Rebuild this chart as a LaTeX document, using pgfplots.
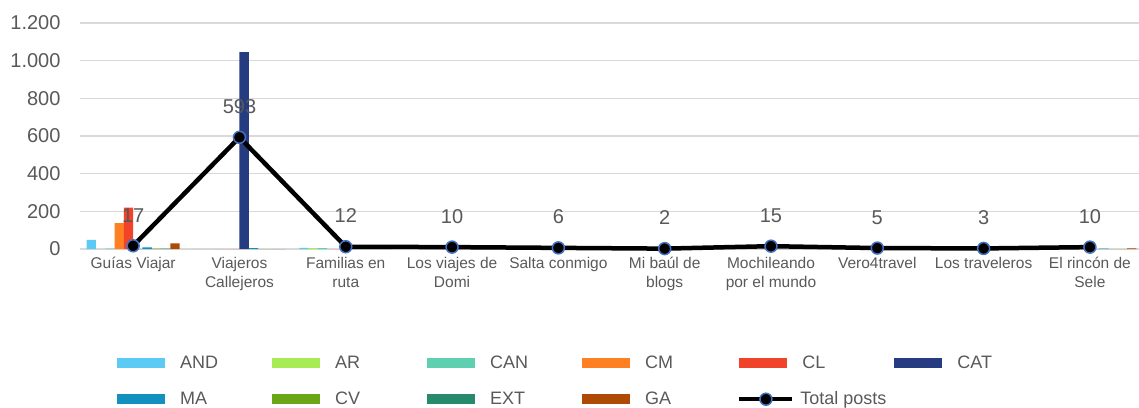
\documentclass[border=0pt]{standalone}
\usepackage{pgfplots}
\pgfplotsset{compat=1.18}
\usepackage{pgfplotstable}
\usepackage{fontspec}
\setmainfont{Liberation Sans}

\definecolor{cAND}{HTML}{5BCBF5}
\definecolor{cAR}{HTML}{A9EB52}
\definecolor{cCAN}{HTML}{5ECFB1}
\definecolor{cCM}{HTML}{FF8022}
\definecolor{cCL}{HTML}{F0432A}
\definecolor{cCAT}{HTML}{263C80}
\definecolor{cMA}{HTML}{1290C0}
\definecolor{cCV}{HTML}{6AA617}
\definecolor{cEXT}{HTML}{278A6D}
\definecolor{cGA}{HTML}{AE4A04}
\definecolor{markblue}{HTML}{4472C4}
\definecolor{gridgray}{HTML}{D9D9D9}
\definecolor{txtgray}{HTML}{595959}

\pgfplotstableread{
x AND AR CAN CM CL CAT MA CV EXT GA total
0 48 0 2 138 220 0 8 2 2 30 17
1 0 0 0 0 0 1045 5 0 0 0 593
2 6 5 5 0 0 0 0 0 0 0 12
3 0 0 0 0 0 0 0 5 5 0 10
4 0 0 0 0 0 0 0 0 0 0 6
5 0 0 0 0 0 0 0 0 0 0 2
6 0 0 0 0 0 0 0 0 0 0 15
7 0 0 0 0 0 0 0 0 0 0 5
8 0 0 0 0 0 0 0 0 0 0 3
9 0 0 0 0 0 0 2 0 0 3 10
}\data

\pgfplotsset{
  barstyle/.style={ybar, bar width=9.3bp, draw=none, fill=#1,
    legend image code/.code={\fill[#1] (0bp,-5bp) rectangle (48bp,5bp); \path (63bp,0bp);}},
  lineleg/.style={legend image code/.code={\draw[##1, mark repeat=2, mark phase=2] plot coordinates {(0bp,0bp) (26.5bp,0bp) (53bp,0bp)}; \path (56bp,0bp);}},
}

\newcommand{\legtxt}[1]{\makebox[92bp][l]{#1\vphantom{Ap}}}

\begin{document}
\begin{tikzpicture}
\path[use as bounding box] (-80bp,-159bp) rectangle (1059bp,249bp);
\begin{axis}[
  at={(0,0)}, anchor=south west,
  scale only axis, width=1063bp, height=226bp,
  xmin=-0.5, xmax=9.5, ymin=0, ymax=1200,
  clip=false,
  xtick={0,...,9},
  xticklabels={Guías Viajar, Viajeros\\Callejeros, Familias en\\ruta, Los viajes de\\Domi, Salta conmigo, Mi baúl de\\blogs, Mochileando\\por el mundo, Vero4travel, Los traveleros, El rincón de\\Sele},
  ytick={0,200,...,1200},
  axis line style={draw=none},
  major tick length=0pt,
  ymajorgrids, grid style={draw=gridgray, line width=1.2bp},
  yticklabel style={font=\fontsize{20bp}{24bp}\selectfont, text=txtgray, anchor=east, xshift=-16bp,
     /pgf/number format/.cd, 1000 sep={.}, assume math mode=true},
  xticklabel style={font=\fontsize{15.5bp}{19bp}\selectfont, text=txtgray, anchor=north, yshift=-5bp, align=center},
  legend columns=6,
  legend style={at={(axis description cs:0.0348,-0.472)}, anchor=north west, draw=none, fill=none,
     inner sep=0pt, font=\fontsize{18bp}{22bp}\selectfont, text=txtgray,
     nodes={inner sep=0pt}, row sep=22bp, column sep=0pt},
]
\addplot[barstyle=cAND, bar shift=-41.85bp] table[x=x, y=AND] {\data}; \addlegendentry{\legtxt{AND}}
\addplot[barstyle=cAR, bar shift=-32.55bp] table[x=x, y=AR] {\data}; \addlegendentry{\legtxt{AR}}
\addplot[barstyle=cCAN, bar shift=-23.25bp] table[x=x, y=CAN] {\data}; \addlegendentry{\legtxt{CAN}}
\addplot[barstyle=cCM, bar shift=-13.95bp] table[x=x, y=CM] {\data}; \addlegendentry{\legtxt{CM}}
\addplot[barstyle=cCL, bar shift=-4.65bp] table[x=x, y=CL] {\data}; \addlegendentry{\legtxt{CL}}
\addplot[barstyle=cCAT, bar shift=4.65bp] table[x=x, y=CAT] {\data}; \addlegendentry{\legtxt{CAT}}
\addplot[barstyle=cMA, bar shift=13.95bp] table[x=x, y=MA] {\data}; \addlegendentry{\legtxt{MA}}
\addplot[barstyle=cCV, bar shift=23.25bp] table[x=x, y=CV] {\data}; \addlegendentry{\legtxt{CV}}
\addplot[barstyle=cEXT, bar shift=32.55bp] table[x=x, y=EXT] {\data}; \addlegendentry{\legtxt{EXT}}
\addplot[barstyle=cGA, bar shift=41.85bp] table[x=x, y=GA] {\data}; \addlegendentry{\legtxt{GA}}
\addplot[sharp plot, black, line width=4.5bp, mark=*, mark size=6bp,
   mark options={fill=black, draw=markblue, line width=1.5bp},
   nodes near coords,
   nodes near coords style={font=\fontsize{20bp}{24bp}\selectfont, text=txtgray, anchor=south, inner sep=0pt, yshift=23bp,
     /pgf/number format/assume math mode=true},
   lineleg
] table[x=x, y=total] {\data}; \addlegendentry{\hspace*{-10bp}Total posts\vphantom{Ap}}
\end{axis}
\end{tikzpicture}
\end{document}
